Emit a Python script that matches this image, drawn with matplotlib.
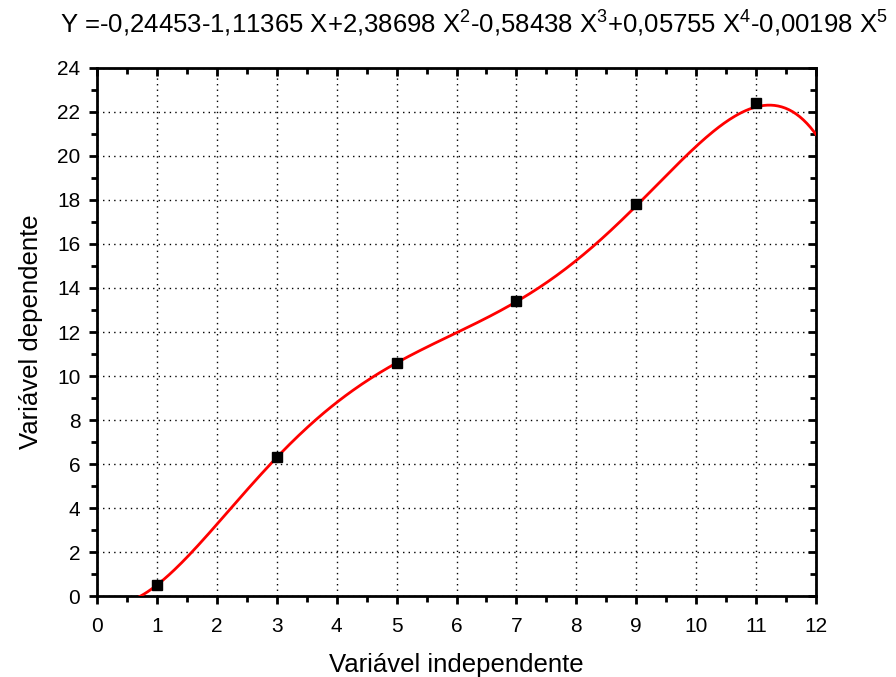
import numpy as np
import matplotlib
matplotlib.use("Agg")
import matplotlib.pyplot as plt
from matplotlib.ticker import MultipleLocator

plt.rcParams["font.family"] = ["Liberation Sans", "DejaVu Sans"]
plt.rcParams["mathtext.fontset"] = "custom"
plt.rcParams["mathtext.rm"] = "Liberation Sans"
plt.rcParams["mathtext.it"] = "Liberation Sans"

# measured points
x_data = [1, 3, 5, 7, 9, 11]
y_data = [0.5, 6.3, 10.6, 13.4, 17.8, 22.4]

# polynomial fit coefficients, constant term first (from the title)
coefs = [-0.24453, -1.11365, 2.38698, -0.58438, 0.05755, -0.00198]

x_fit = np.linspace(0, 12, 400)
y_fit = np.polyval(coefs[::-1], x_fit)

fig = plt.figure(figsize=(8.96, 6.77), dpi=100)
ax = fig.add_axes([0.1083, 0.1196, 0.8024, 0.78])

ax.plot(x_fit, y_fit, color="red", lw=2, zorder=3)
ax.plot(x_data, y_data, "s", color="black", markersize=7.5, zorder=4)

ax.set_xlim(0, 12)
ax.set_ylim(0, 24)
ax.xaxis.set_major_locator(MultipleLocator(1))
ax.xaxis.set_minor_locator(MultipleLocator(0.5))
ax.yaxis.set_major_locator(MultipleLocator(2))
ax.yaxis.set_minor_locator(MultipleLocator(1))

ax.grid(True, which="major", linestyle=(0, (1, 3)), color="black", lw=1)
for s in ax.spines.values():
    s.set_linewidth(2)

ax.tick_params(which="both", direction="out", width=2, labelsize=15,
               top=False, right=False)
ax.tick_params(which="major", length=6)
ax.tick_params(which="minor", length=4)
ax.tick_params(axis="x", pad=9)
ax.tick_params(axis="y", pad=6)

# inward ticks on top and right
ax2 = ax.secondary_xaxis("top")
ax2.xaxis.set_major_locator(MultipleLocator(1))
ax2.xaxis.set_minor_locator(MultipleLocator(0.5))
ax2.tick_params(which="both", direction="in", width=2, labeltop=False)
ax2.tick_params(which="major", length=6)
ax2.tick_params(which="minor", length=4)
ay2 = ax.secondary_yaxis("right")
ay2.yaxis.set_major_locator(MultipleLocator(2))
ay2.yaxis.set_minor_locator(MultipleLocator(1))
ay2.tick_params(which="both", direction="in", width=2, labelright=False)
ay2.tick_params(which="major", length=6)
ay2.tick_params(which="minor", length=4)

ax.set_xlabel("Variável independente", fontsize=18.5, labelpad=12)
ax.set_ylabel("Variável dependente", fontsize=18.5, labelpad=10)

title = ("Y =-0,24453-1,11365 X+2,38698 X$^2$-0,58438 X$^3$"
         "+0,05755 X$^4$-0,00198 X$^5$")
fig.text(0.529, 0.965, title, fontsize=18.5, ha="center", va="center")

fig.savefig("out.png", dpi=100)
